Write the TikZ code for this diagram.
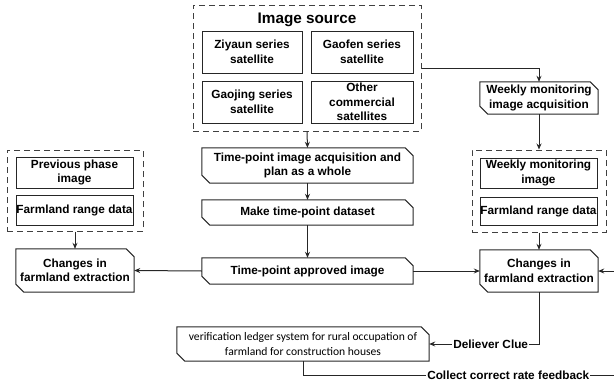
\documentclass[tikz,border=0pt]{standalone}
\usepackage{fontspec}
\setmainfont{Liberation Sans}
\newfontfamily\calib{Carlito}
\usetikzlibrary{arrows.meta,calc}
\tikzstyle{box}=[rectangle,draw=black!85,line width=1pt,fill=white,inner sep=0pt,align=center,font=\bfseries\fontsize{11.8}{14.5}\selectfont]
\tikzstyle{cutbox}=[rectangle,inner sep=0pt,align=center,font=\bfseries\fontsize{11.8}{14.5}\selectfont,
    append after command={\pgfextra{\draw[black!85,line width=1pt]
        (\tikzlastnode.north west) -- ($(\tikzlastnode.north east)+(-8pt,0pt)$) -- ($(\tikzlastnode.north east)+(0pt,-8pt)$)
        -- (\tikzlastnode.south east) -- ($(\tikzlastnode.south west)+(8pt,0pt)$) -- ($(\tikzlastnode.south west)+(0pt,8pt)$) -- cycle;}}]
\tikzstyle{group}=[rectangle,draw=black!75,line width=1pt,dash pattern=on 6pt off 4pt,inner sep=0pt]
\tikzstyle{edge} = [draw=black!85,line width=1pt,-{Stealth[length=6pt,width=5pt]}]
\tikzstyle{line} = [draw=black!85,line width=1pt]
\tikzstyle{tag} = [fill=white,inner sep=1pt,font=\bfseries\fontsize{11.8}{13}\selectfont]

\begin{document}
\begin{tikzpicture}[x=1pt,y=-1pt]
    \useasboundingbox (0,0) rectangle (614,383);

    % image source group
    \node[group,minimum width=228pt,minimum height=126pt] (src) at (307,68) {};
    \node[font=\bfseries\fontsize{15.3}{17}\selectfont] (srctitle) at (307,20) {Image source};
    \foreach \pos/\name/\txt/\w in {{(252,52)/ziyaun/{Ziyaun series\\satellite}/100},
                                   {(362,52)/gaofen/{Gaofen series\\satellite}/102},
                                   {(252,102)/gaojing/{Gaojing series\\satellite}/100},
                                   {(362,102)/other/{Other\\commercial\\satellites}/102}}
        \node[box,minimum width=\w pt,minimum height=42pt] (\name) at \pos {\txt};

    % middle column
    \node[cutbox,minimum width=211pt,minimum height=35pt] (acq) at (307.5,165.5) {Time-point image acquisition and\\plan as a whole};
    \node[cutbox,minimum width=211pt,minimum height=25pt] (dataset) at (307.5,212.5) {Make time-point dataset};
    \node[cutbox,minimum width=211pt,minimum height=26pt] (approved) at (307.5,271) {Time-point approved image};

    % left column
    \node[group,minimum width=136pt,minimum height=81pt] (leftgrp) at (75,190.5) {};
    \node[box,minimum width=117pt,minimum height=31pt] (prev) at (74.5,172.5) {Previous phase\\image};
    \node[box,minimum width=117pt,minimum height=30pt] (farml) at (74.5,210) {Farmland range data};
    \node[cutbox,minimum width=118pt,minimum height=43pt] (changesl) at (75,270.5) {Changes in\\farmland extraction};

    % right column
    \node[cutbox,minimum width=118pt,minimum height=32pt] (weekacq) at (539,98) {Weekly monitoring\\image acquisition};
    \node[group,minimum width=134pt,minimum height=82pt] (rightgrp) at (539,191) {};
    \node[box,minimum width=117pt,minimum height=30pt] (weekimg) at (538.5,173) {Weekly monitoring\\image};
    \node[box,minimum width=117pt,minimum height=28pt] (farmr) at (538.5,211) {Farmland range data};
    \node[cutbox,minimum width=118pt,minimum height=42pt] (changesr) at (539,271) {Changes in\\farmland extraction};

    % bottom
    \node[cutbox,minimum width=252pt,minimum height=34pt,font=\calib\fontsize{11.6}{15}\selectfont] (verif) at (303,344) {verification ledger system for rural occupation of\\farmland for construction houses};

    \coordinate (inright) at (614,271);
    \coordinate (fbend) at (614,375);

    % connectors
    \path[edge] (src.south) -- (acq.north);
    \path[edge] (acq) -- (dataset);
    \path[edge] (dataset) -- (approved);
    \path[edge] (src.east) -| (weekacq.north);
    \path[edge] (weekacq) -- (rightgrp);
    \path[edge] (leftgrp) -- (changesl);
    \path[edge] (rightgrp) -- (changesr);
    \path[edge] (approved.west) -- (changesl.east);
    \path[edge] (approved.east) -- (changesr.west);
    \path[edge] (inright) -- (changesr.east);
    \path[edge] (changesr.south) |- node[tag,pos=0.72] (clue) {Deliever Clue} (verif.east);
    \path[line] (verif.south) |- node[tag,pos=0.83] (feedback) {Collect correct rate feedback} (fbend);

\end{tikzpicture}
\end{document}
